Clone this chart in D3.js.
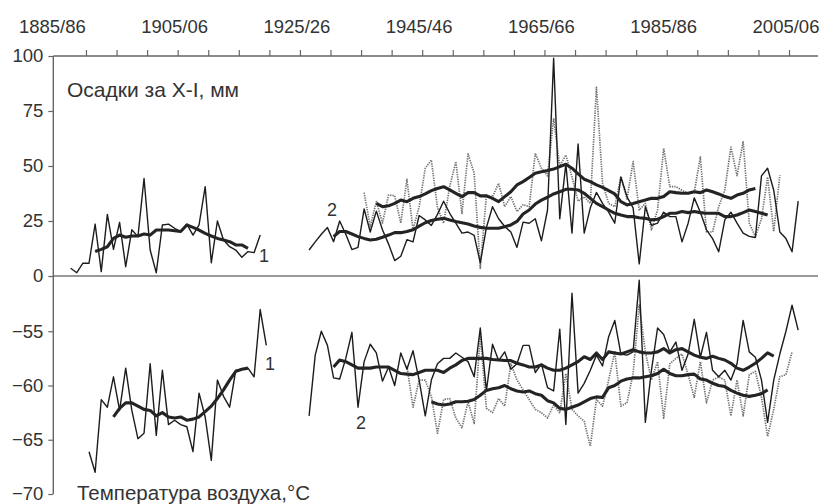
<!DOCTYPE html>
<html>
<head>
<meta charset="utf-8">
<script src="https://cdn.jsdelivr.net/npm/d3@7"></script>
<style>
  body { margin: 0; background: #fff; }
  svg text { font-family: "Liberation Sans", Arial, sans-serif; fill: #333; }
</style>
</head>
<body>
<div id="chart"></div>
<script>
// ---- tick labels (winter seasons) ----
const majorYears = [1885, 1905, 1925, 1945, 1965, 1985, 2005];
const minorYears = d3.range(1890, 2010, 5);
const precipTicks = [0, 25, 50, 75, 100];
const tempTicks = [-70, -65, -60, -55];

// ---- precipitation, Oct–Jan, mm ----
const precipEarlyStart = 1887;
const precipEarly = [3.5, 1.5, 5.8, 5.8, 23.6, 2, 28, 12.1, 24.4, 4.2, 21, 17.9, 44.3, 11.8, 1.5, 23.2,
  23.6, 21.7, 20.2, 23.6, 18.6, 23.2, 40.6, 6, 25, 16.4, 13.3, 11.8, 8.5, 11.1, 10.6, 18.6];
const precipEarlySmoothStart = 1891;
const precipEarlySmooth = [11.1, 12.1, 13.3, 17.1, 18.6, 17.6, 18.2, 18.2, 19.1, 18.6, 20.9, 20.9, 20.9,
  20.6, 20.2, 23.2, 22.1, 20.9, 19.4, 18.2, 17.1, 16.4, 15.6, 14.1, 14.1, 12.6];

const precipMainStart = 1926;
const precipMain = [11.8, 15.5, 19, 22, 15.6, 25, 19, 12, 13, 30.5, 20, 29.5, 21, 14.5, 7, 9, 16.5, 15.5,
  27.5, 25.5, 23, 28, 34, 28.5, 24, 19.5, 20, 18.5, 6, 22, 31.5, 26, 22.5, 20, 13, 24.5, 24, 26, 16, 30,
  99, 26, 51, 19.5, 60, 19.5, 31, 38, 33, 29, 24, 45, 36, 31, 5.5, 31.5, 23, 24, 29, 27, 27, 15.5, 24,
  35.5, 29, 21, 17, 11, 25.5, 29, 24, 19.5, 18, 17.5, 45.5, 49, 39, 20, 17, 11, 34];
const precipMainSmoothStart = 1930;
const precipMainSmooth = [17.9, 20.2, 20.2, 19.1, 17.9, 17.1, 16.4, 16.7, 17.6, 18.6, 19.7, 19.7, 20.2,
  21, 22.7, 24.2, 25.2, 25.8, 26.2, 25.5, 24.8, 24.2, 23.6, 22.7, 22.1, 21.7, 21.7, 21.7, 22.4, 23.2,
  24.8, 28.2, 30, 32.7, 34.5, 35.8, 37.3, 38.3, 39.4, 39.4, 39.1, 37.6, 35.3, 33, 31.5, 30, 28.5, 27.7,
  27, 27, 26.5, 26.2, 25.5, 25.8, 27, 28.5, 28.5, 29.3, 28.8, 29.3, 28.8, 28.5, 28.5, 28.5, 27, 27,
  27.7, 28.8, 30, 29.3, 28.5, 27.7];

const precipAltStart = 1935;
const precipAlt = [37.9, 22.4, 33.8, 24.1, 36.8, 36.5, 24, 43.9, 21, 31.5, 49, 52.7, 31, 24, 40.6, 52,
  28.5, 55.5, 46.7, 3.5, 36.8, 36, 42.1, 31.5, 36.1, 29.3, 32.4, 31.5, 55.8, 49, 45.5, 71.7, 50, 55, 45,
  34, 36, 33, 85.8, 42.1, 33, 31.5, 45.2, 35, 52, 30, 33, 21, 30, 58, 40.6, 40.6, 39, 37.5, 38, 54.1,
  20, 20, 31.5, 39, 58.6, 45.6, 61.2, 24, 17.9, 26, 45, 20.2, 45.8];
const precipAltSmoothStart = 1937;
const precipAltSmooth = [33, 31.5, 31.9, 33, 34.5, 33.8, 35.3, 36.1, 37.3, 38.8, 39.8, 40.6, 39.1, 37.6,
  36.1, 37.9, 37.9, 36.4, 36.4, 35.3, 33.8, 36.1, 38.3, 41.4, 42.9, 44.8, 46.7, 47.4, 47.9, 48.6, 49.7,
  50.8, 49, 46.4, 44, 42.9, 41.4, 40.3, 38.8, 37.3, 33.8, 32.3, 33, 33.8, 34.5, 35.3, 35.3, 36.1, 38.3,
  37.9, 37.6, 37.6, 38.3, 37.9, 39.1, 38.3, 37.3, 36.1, 35.3, 36.8, 37.6, 39.1, 39.8];

// ---- air temperature, °C ----
const tempEarlyStart = 1890;
const tempEarly = [-66.1, -68, -61.3, -62, -59.2, -62.3, -58.4, -62.3, -64.9, -64.4, -58, -64.6, -58.6,
  -63.6, -63.2, -63.6, -63.8, -66.1, -60.7, -62.9, -66.9, -59.5, -61, -62, -58.6, -58.5, -58.4, -59.2,
  -53, -56.3];
const tempEarlySmoothStart = 1894;
const tempEarlySmooth = [-62.9, -62.1, -61.6, -61.6, -61.9, -62.2, -62.3, -62.8, -62.5, -62.9, -63, -62.9,
  -63.2, -63.1, -62.9, -62.4, -61.9, -61.2, -60.4, -59.5, -58.7, -58.5, -58.4];

const tempMainStart = 1926;
const tempMain = [-62.8, -57.2, -55, -56.3, -59.3, -59.4, -57.5, -55.1, -62, -57.8, -56.2, -57, -59.6,
  -58.3, -60, -57, -58.5, -56.8, -59.5, -62.8, -59.5, -58, -57.5, -57.5, -57, -57.4, -57.8, -59.2, -54.7,
  -60.5, -56.2, -57.7, -56.9, -58.5, -58, -56.3, -56.3, -58.8, -58, -60.2, -60.5, -54.8, -63.6, -51.5,
  -60.7, -59.8, -58.6, -57.2, -58.2, -55.5, -54, -57.1, -57.2, -56.9, -50.3, -63.4, -58.6, -54.7, -55.3,
  -56.9, -56, -58.6, -57.1, -53.9, -57.4, -55.1, -58.6, -59.2, -58.6, -59.5, -58, -54, -56.9, -57.4,
  -59.5, -63.4, -59.5, -57.1, -55, -52.6, -54.9];
const tempMainSmoothStart = 1930;
const tempMainSmooth = [-58.3, -57.65, -57.8, -58.1, -58.4, -58.4, -58.4, -58.3, -58.3, -58.3, -58.6,
  -58.9, -58.95, -59, -58.8, -58.6, -58.6, -58.6, -58.8, -58.4, -58.1, -57.7, -57.5, -57.5, -57.5, -57.5,
  -57.6, -57.65, -57.7, -57.7, -57.95, -58.1, -58.3, -58.3, -58.1, -58.4, -58.6, -58.6, -58.4, -58.1,
  -57.8, -57.35, -57.6, -57, -57.6, -56.9, -57, -57.1, -56.9, -56.7, -56.9, -57, -57, -56.9, -56.6, -57,
  -56.7, -56.6, -56.9, -57.2, -57.4, -57.5, -57.3, -57.5, -57.65, -57.95, -58.4, -58.6, -58.3, -57.95,
  -57.5, -57, -57.3];

const tempAltStart = 1942;
const tempAlt = [-58.2, -62, -59.5, -59.5, -61, -64.4, -61.3, -61.2, -63, -63.9, -61.5, -63.5, -55.3,
  -62.1, -62.5, -61.2, -61.9, -58, -59.5, -60.4, -61.3, -62.2, -62.5, -63, -61.8, -62.5, -58.9, -62.2,
  -62.8, -63.3, -65.6, -61.3, -61.9, -59.5, -56.9, -61.9, -61.6, -58.9, -52.6, -56.9, -59.5, -57.8, -63,
  -58, -57.5, -57.1, -59, -61.1, -57.8, -61.6, -59.5, -59.2, -59.5, -62.8, -59.5, -62.8, -59, -58.7,
  -61.1, -64.7, -62.2, -59.2, -59, -56.9];
const tempAltSmoothStart = 1946;
const tempAltSmooth = [-61.5, -61.7, -61.8, -61.7, -61.5, -61.5, -61.45, -61.3, -60.9, -60.45, -60.3,
  -60.2, -60, -60.3, -60.5, -60.6, -60.5, -60.75, -60.9, -61.4, -61.6, -62.1, -62.2, -62, -61.8, -61.5,
  -61.2, -61.05, -61.1, -60.2, -60, -59.6, -59.4, -59.3, -59.3, -59.2, -59.1, -58.9, -58.5, -58.9, -59.1,
  -59.1, -59, -58.95, -59.4, -59.5, -59.8, -60, -60.1, -60.45, -60.7, -60.9, -61, -60.9, -60.75, -60.4];

const width = 820, height = 504;

const svg = d3.select('#chart').append('svg')
  .attr('width', width)
  .attr('height', height);

// ----------------------------------
// SCALES
// ----------------------------------
const x = d3.scaleLinear().domain([1885, 2005]).range([55.4, 789]);
const yPrecip = d3.scaleLinear().domain([0, 100]).range([276, 56]);
const yTemp = d3.scaleLinear().domain([-70, -50]).range([494, 277]);

const axisLeftX = 53.3;
const axisRightX = 818;
const axisColor = '#666';

// values are plotted in the middle of each winter season
const toPoints = (start, vals) => vals.map((v, i) => ({ year: start + i, value: v }));

// ----------------------------------
// AXES
// ----------------------------------
// top axis line and ticks
svg.append('line')
  .attr('x1', axisLeftX).attr('x2', axisRightX)
  .attr('y1', yPrecip(100)).attr('y2', yPrecip(100))
  .attr('stroke', axisColor).attr('stroke-width', 1.4);

const topAxis = svg.append('g')
  .attr('transform', `translate(0,${yPrecip(100)})`)
  .call(d3.axisTop(x).tickValues(minorYears).tickSize(6).tickFormat(''));
topAxis.select('.domain').remove();
topAxis.selectAll('line').attr('stroke', axisColor).attr('stroke-width', 1.2);

svg.append('g').selectAll('text')
  .data(majorYears)
  .join('text')
  .attr('x', d => x(d) - 3)
  .attr('y', 33)
  .attr('text-anchor', 'middle')
  .attr('font-size', 18.5)
  .text(d => `${d}/${String((d + 1) % 100).padStart(2, '0')}`);

// zero line separating the panels
svg.append('line')
  .attr('x1', axisLeftX).attr('x2', axisRightX)
  .attr('y1', yPrecip(0)).attr('y2', yPrecip(0))
  .attr('stroke', '#777').attr('stroke-width', 1.6);

// left axis, shared vertical line
svg.append('line')
  .attr('x1', axisLeftX).attr('x2', axisLeftX)
  .attr('y1', yPrecip(100)).attr('y2', yTemp(-70))
  .attr('stroke', axisColor).attr('stroke-width', 1.4);

function styleLeft(g) {
  g.select('.domain').remove();
  g.selectAll('line').attr('stroke', axisColor).attr('stroke-width', 1.2);
  g.selectAll('text')
    .attr('font-size', 18.5)
    .attr('fill', '#333')
    .attr('font-family', '"Liberation Sans", Arial, sans-serif');
}

svg.append('g')
  .attr('transform', `translate(${axisLeftX},0)`)
  .call(d3.axisLeft(yPrecip).tickValues(precipTicks).tickSize(5).tickPadding(5))
  .call(styleLeft);

svg.append('g')
  .attr('transform', `translate(${axisLeftX},0)`)
  .call(d3.axisLeft(yTemp).tickValues(tempTicks).tickSize(5).tickPadding(5))
  .call(styleLeft);

// ----------------------------------
// LINES
// ----------------------------------
const linePrecip = d3.line().x(d => x(d.year + 0.5)).y(d => yPrecip(d.value));
const lineTemp = d3.line().x(d => x(d.year + 0.5)).y(d => yTemp(d.value));

const thin = { stroke: '#1c1c1c', width: 1.4, dash: null };
const dotted = { stroke: '#707070', width: 1.7, dash: '1.3,1.1' };
const thick = { stroke: '#242424', width: 3.1, dash: null };

const series = [
  { pts: toPoints(precipAltStart, precipAlt), line: linePrecip, style: dotted },
  { pts: toPoints(tempAltStart, tempAlt), line: lineTemp, style: dotted },
  { pts: toPoints(precipEarlyStart, precipEarly), line: linePrecip, style: thin },
  { pts: toPoints(precipMainStart, precipMain), line: linePrecip, style: thin },
  { pts: toPoints(tempEarlyStart, tempEarly), line: lineTemp, style: thin },
  { pts: toPoints(tempMainStart, tempMain), line: lineTemp, style: thin },
  { pts: toPoints(precipEarlySmoothStart, precipEarlySmooth), line: linePrecip, style: thick },
  { pts: toPoints(precipMainSmoothStart, precipMainSmooth), line: linePrecip, style: thick },
  { pts: toPoints(precipAltSmoothStart, precipAltSmooth), line: linePrecip, style: thick },
  { pts: toPoints(tempEarlySmoothStart, tempEarlySmooth), line: lineTemp, style: thick },
  { pts: toPoints(tempMainSmoothStart, tempMainSmooth), line: lineTemp, style: thick },
  { pts: toPoints(tempAltSmoothStart, tempAltSmooth), line: lineTemp, style: thick }
];

svg.append('g').selectAll('path')
  .data(series)
  .join('path')
  .attr('d', d => d.line(d.pts))
  .attr('fill', 'none')
  .attr('stroke', d => d.style.stroke)
  .attr('stroke-width', d => d.style.width)
  .attr('stroke-dasharray', d => d.style.dash)
  .attr('stroke-linejoin', 'round');

// ----------------------------------
// LABELS
// ----------------------------------
svg.append('text').attr('x', 67).attr('y', 97).attr('font-size', 21).text('Осадки за X-I, мм');
svg.append('text').attr('x', 77).attr('y', 500).attr('font-size', 20.5).text('Температура воздуха,°С');

const seriesLabels = [
  { text: '1', x: 259, y: 262 },
  { text: '2', x: 327, y: 216 },
  { text: '1', x: 265, y: 370 },
  { text: '2', x: 356, y: 429 }
];
svg.append('g').selectAll('text')
  .data(seriesLabels)
  .join('text')
  .attr('x', d => d.x).attr('y', d => d.y)
  .attr('font-size', 18)
  .text(d => d.text);
</script>
</body>
</html>
